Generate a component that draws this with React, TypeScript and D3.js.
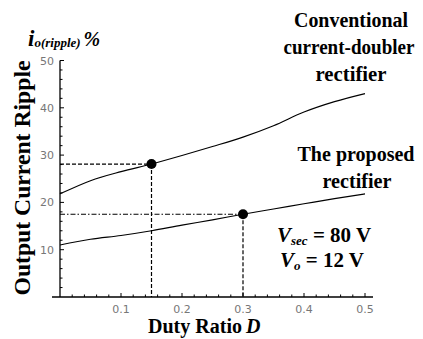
import React from "react";
import * as d3 from "d3";

const duty = [0, 0.05, 0.1, 0.15, 0.2, 0.25, 0.3, 0.35, 0.4, 0.45, 0.5];
const conventional = [21.8, 24.6, 26.5, 28.1, 29.9, 31.8, 33.8, 36.2, 39.1, 41.3, 43.0];
const proposed = [11.0, 12.2, 13.0, 14.0, 15.2, 16.3, 17.5, 18.6, 19.7, 20.8, 21.8];
const markD = [0.15, 0.3];
const markV = [28.1, 17.5];
const xTickLabels = [0.1, 0.2, 0.3, 0.4, 0.5];
const yTickLabels = [10, 20, 30, 40, 50];

export default function App() {
  const W = 423, H = 339;
  const x = d3.scaleLinear().domain([0, 0.5]).range([60, 365]);
  const y = d3.scaleLinear().domain([0, 50]).range([297, 60.5]);
  const line = d3.line<number>().x((_, i) => x(duty[i])).y((v) => y(v)).curve(d3.curveMonotoneX);
  const xMinor = d3.range(1, 26).map((i) => i * 0.02);
  const yMinor = d3.range(1, 26).map((i) => i * 2);
  const serif = "'Liberation Serif', 'DejaVu Serif', serif";
  const sans = "'DejaVu Sans', 'Liberation Sans', sans-serif";
  const adj = "spacingAndGlyphs";
  return (
    <svg width={W} height={H} style={{ position: "absolute", left: 0, top: 0 }}>
      <rect width={W} height={H} fill="#fff" />
      {/* axes */}
      <line x1={52} x2={373} y1={y(0)} y2={y(0)} stroke="#000" strokeWidth={1.3} />
      <line x1={x(0)} x2={x(0)} y1={y(0)} y2={y(50)} stroke="#000" strokeWidth={1.3} />
      {xMinor.map((t) => (
        <line key={"xt" + t} x1={x(t)} x2={x(t)} y1={y(0)} y2={y(0) - (Math.abs(t * 10 - Math.round(t * 10)) < 1e-6 ? 4 : 2.5)} stroke="#000" strokeWidth={1} />
      ))}
      {yMinor.map((t) => (
        <line key={"yt" + t} x1={x(0)} x2={x(0) + (t % 10 === 0 ? 4 : 2.5)} y1={y(t)} y2={y(t)} stroke="#000" strokeWidth={1} />
      ))}
      {xTickLabels.map((t) => (
        <text key={"xl" + t} x={x(t)} y={313} textAnchor="middle" fontFamily={sans} fontSize={11} fill="#777">{t.toFixed(1)}</text>
      ))}
      {yTickLabels.map((t) => (
        <text key={"yl" + t} x={54} y={y(t) + 4} textAnchor="end" fontFamily={sans} fontSize={11} fill="#777">{t}</text>
      ))}
      {/* guide lines */}
      <line x1={x(0)} x2={x(markD[0])} y1={y(markV[0])} y2={y(markV[0])} stroke="#000" strokeWidth={1.2} strokeDasharray="4,2" />
      <line x1={x(markD[0])} x2={x(markD[0])} y1={y(markV[0])} y2={y(0)} stroke="#000" strokeWidth={1.2} strokeDasharray="4,2" />
      <line x1={x(0)} x2={x(markD[1])} y1={y(markV[1])} y2={y(markV[1])} stroke="#000" strokeWidth={1.2} strokeDasharray="5,2,1.5,2" />
      <line x1={x(markD[1])} x2={x(markD[1])} y1={y(markV[1])} y2={y(0)} stroke="#000" strokeWidth={1.2} strokeDasharray="4,2" />
      {/* curves */}
      <path d={line(conventional) || ""} fill="none" stroke="#000" strokeWidth={1.1} />
      <path d={line(proposed) || ""} fill="none" stroke="#000" strokeWidth={1.1} />
      {markD.map((d, i) => (
        <circle key={"m" + i} cx={x(d)} cy={y(markV[i])} r={5} fill="#000" />
      ))}
      {/* title */}
      <text x={28} y={46} fontFamily={serif} fontWeight="bold" fontStyle="italic">
        <tspan fontSize={23}>i</tspan>
        <tspan fontSize={13} dy={1}>o(ripple)</tspan>
        <tspan fontSize={20} dy={-1} dx={3}>%</tspan>
      </text>
      {/* y label */}
      <text transform="translate(30,178) rotate(-90)" textAnchor="middle" fontFamily={serif} fontWeight="bold" fontSize={24} textLength={235} lengthAdjust={adj}>Output Current Ripple</text>
      {/* x label */}
      <text x={148} y={333} fontFamily={serif} fontWeight="bold" fontSize={20} textLength={94} lengthAdjust={adj}>Duty Ratio</text>
      <text x={246} y={333} fontFamily={serif} fontWeight="bold" fontStyle="italic" fontSize={20}>D</text>
      {/* annotations */}
      <g fontFamily={serif} fontWeight="bold" fontSize={21} textAnchor="middle">
        <text x={351} y={27} textLength={114} lengthAdjust={adj}>Conventional</text>
        <text x={349} y={54} fontSize={20} textLength={131} lengthAdjust={adj}>current-doubler</text>
        <text x={351} y={81} textLength={71} lengthAdjust={adj}>rectifier</text>
        <text x={356} y={161} textLength={117} lengthAdjust={adj}>The proposed</text>
        <text x={357} y={188} textLength={69} lengthAdjust={adj}>rectifier</text>
      </g>
      <g fontFamily={serif} fontWeight="bold">
        <text x={277} y={242}>
          <tspan fontStyle="italic" fontSize={21}>V</tspan>
          <tspan fontStyle="italic" fontSize={13} dy={3}>sec</tspan>
          <tspan fontSize={21} dy={-3}> = 80 V</tspan>
        </text>
        <text x={280} y={267}>
          <tspan fontStyle="italic" fontSize={21}>V</tspan>
          <tspan fontStyle="italic" fontSize={13} dy={3}>o</tspan>
          <tspan fontSize={21} dy={-3}> = 12 V</tspan>
        </text>
      </g>
    </svg>
  );
}
